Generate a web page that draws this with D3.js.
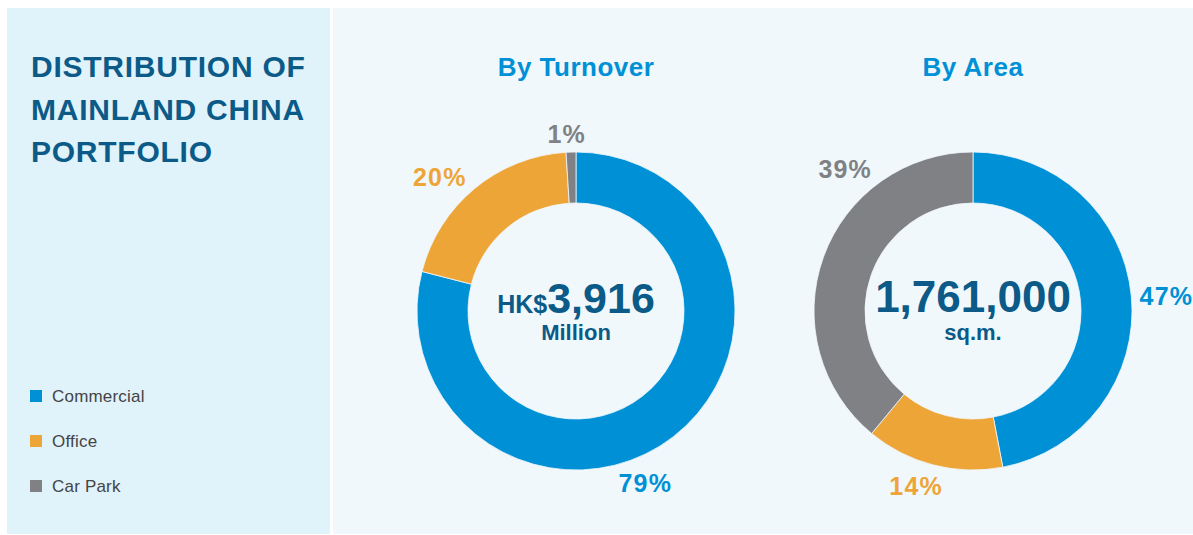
<!DOCTYPE html>
<html>
<head>
<meta charset="utf-8">
<script src="https://cdn.jsdelivr.net/npm/d3@7"></script>
<style>
  html, body { margin: 0; padding: 0; background: #ffffff; }
  svg { display: block; }
</style>
</head>
<body>
<svg id="chart"></svg>
<script>
// data
const categories = ['Commercial', 'Office', 'Car Park'];
const turnoverShare = [79, 20, 1];
const areaShare = [47, 14, 39];
const chartTitles = ['By Turnover', 'By Area'];
const titleLines = ['DISTRIBUTION OF', 'MAINLAND CHINA', 'PORTFOLIO'];

// where the % labels sit: [degrees clockwise from top, radius]
const turnoverLabelPos = [[158, 185], [314.5, 191], [357, 177]];
const areaLabelPos = [[85.5, 194], [198, 184], [318, 191]];

const colors = ['#0090d5', '#eea538', '#808184'];
const dark = '#0b5a87';
const font = '"Liberation Sans", Arial, sans-serif';

const width = 1193;
const height = 535;

const svg = d3.select('#chart')
  .attr('width', width)
  .attr('height', height);

// background panels
svg.append('rect')
  .attr('x', 7).attr('y', 8)
  .attr('width', 323).attr('height', 526)
  .attr('fill', '#e0f2fa');

svg.append('rect')
  .attr('x', 333).attr('y', 8)
  .attr('width', 860).attr('height', 526)
  .attr('fill', '#f1f8fc');

// title
svg.append('text')
  .attr('x', 31)
  .attr('y', 77)
  .attr('font-family', font)
  .attr('font-weight', 'bold')
  .attr('font-size', 30)
  .attr('letter-spacing', 0.75)
  .attr('fill', dark)
  .selectAll('tspan')
  .data(titleLines)
  .enter().append('tspan')
  .attr('x', 31)
  .attr('dy', (d, i) => (i === 0 ? 0 : 42.5))
  .text((d) => d);

// legend
const legend = svg.selectAll('.legend')
  .data(categories)
  .enter().append('g')
  .attr('class', 'legend')
  .attr('transform', (d, i) => `translate(30,${390 + i * 45})`);

legend.append('rect')
  .attr('width', 12).attr('height', 12)
  .attr('fill', (d, i) => colors[i]);

legend.append('text')
  .attr('x', 22)
  .attr('y', 12)
  .attr('font-family', font)
  .attr('font-size', 17)
  .attr('letter-spacing', 0.2)
  .attr('fill', '#444')
  .text((d) => d);

// donuts
const outerR = 159;
const innerR = 108;

const pie = d3.pie().sort(null).value((d) => d);
const arc = d3.arc().innerRadius(innerR).outerRadius(outerR);
const pointAt = ([deg, r]) => {
  const a = (deg * Math.PI) / 180;
  return d3.arc().innerRadius(r).outerRadius(r)
    .startAngle(a).endAngle(a).centroid();
};

function drawDonut(cx, title, values, labelPos, center) {
  const g = svg.append('g').attr('transform', `translate(${cx},311)`);

  g.append('text')
    .attr('y', -235)
    .attr('text-anchor', 'middle')
    .attr('font-family', font)
    .attr('font-weight', 'bold')
    .attr('font-size', 26)
    .attr('letter-spacing', 0.5)
    .attr('fill', colors[0])
    .text(title);

  g.selectAll('path')
    .data(pie(values))
    .enter().append('path')
    .attr('d', arc)
    .attr('fill', (d, i) => colors[i])
    .attr('stroke', '#f1f8fc')
    .attr('stroke-width', 0.8);

  g.selectAll('.pct')
    .data(values)
    .enter().append('text')
    .attr('class', 'pct')
    .attr('transform', (d, i) => `translate(${pointAt(labelPos[i])})`)
    .attr('dy', '0.36em')
    .attr('text-anchor', 'middle')
    .attr('font-family', font)
    .attr('font-weight', 'bold')
    .attr('font-size', 25)
    .attr('letter-spacing', 1.2)
    .attr('fill', (d, i) => colors[i])
    .text((d) => `${d}%`);

  center(g);
}

drawDonut(576, chartTitles[0], turnoverShare, turnoverLabelPos, (g) => {
  const t = g.append('text')
    .attr('y', 2)
    .attr('text-anchor', 'middle')
    .attr('font-family', font)
    .attr('font-weight', 'bold')
    .attr('fill', dark);
  t.append('tspan').attr('font-size', 25).text('HK$');
  t.append('tspan').attr('font-size', 43).text('3,916');
  g.append('text')
    .attr('y', 29)
    .attr('text-anchor', 'middle')
    .attr('font-family', font)
    .attr('font-weight', 'bold')
    .attr('font-size', 22)
    .attr('fill', dark)
    .text('Million');
});

drawDonut(973, chartTitles[1], areaShare, areaLabelPos, (g) => {
  g.append('text')
    .attr('y', 1)
    .attr('text-anchor', 'middle')
    .attr('font-family', font)
    .attr('font-weight', 'bold')
    .attr('font-size', 44)
    .attr('fill', dark)
    .text('1,761,000');
  g.append('text')
    .attr('y', 29)
    .attr('text-anchor', 'middle')
    .attr('font-family', font)
    .attr('font-weight', 'bold')
    .attr('font-size', 22)
    .attr('fill', dark)
    .text('sq.m.');
});
</script>
</body>
</html>
